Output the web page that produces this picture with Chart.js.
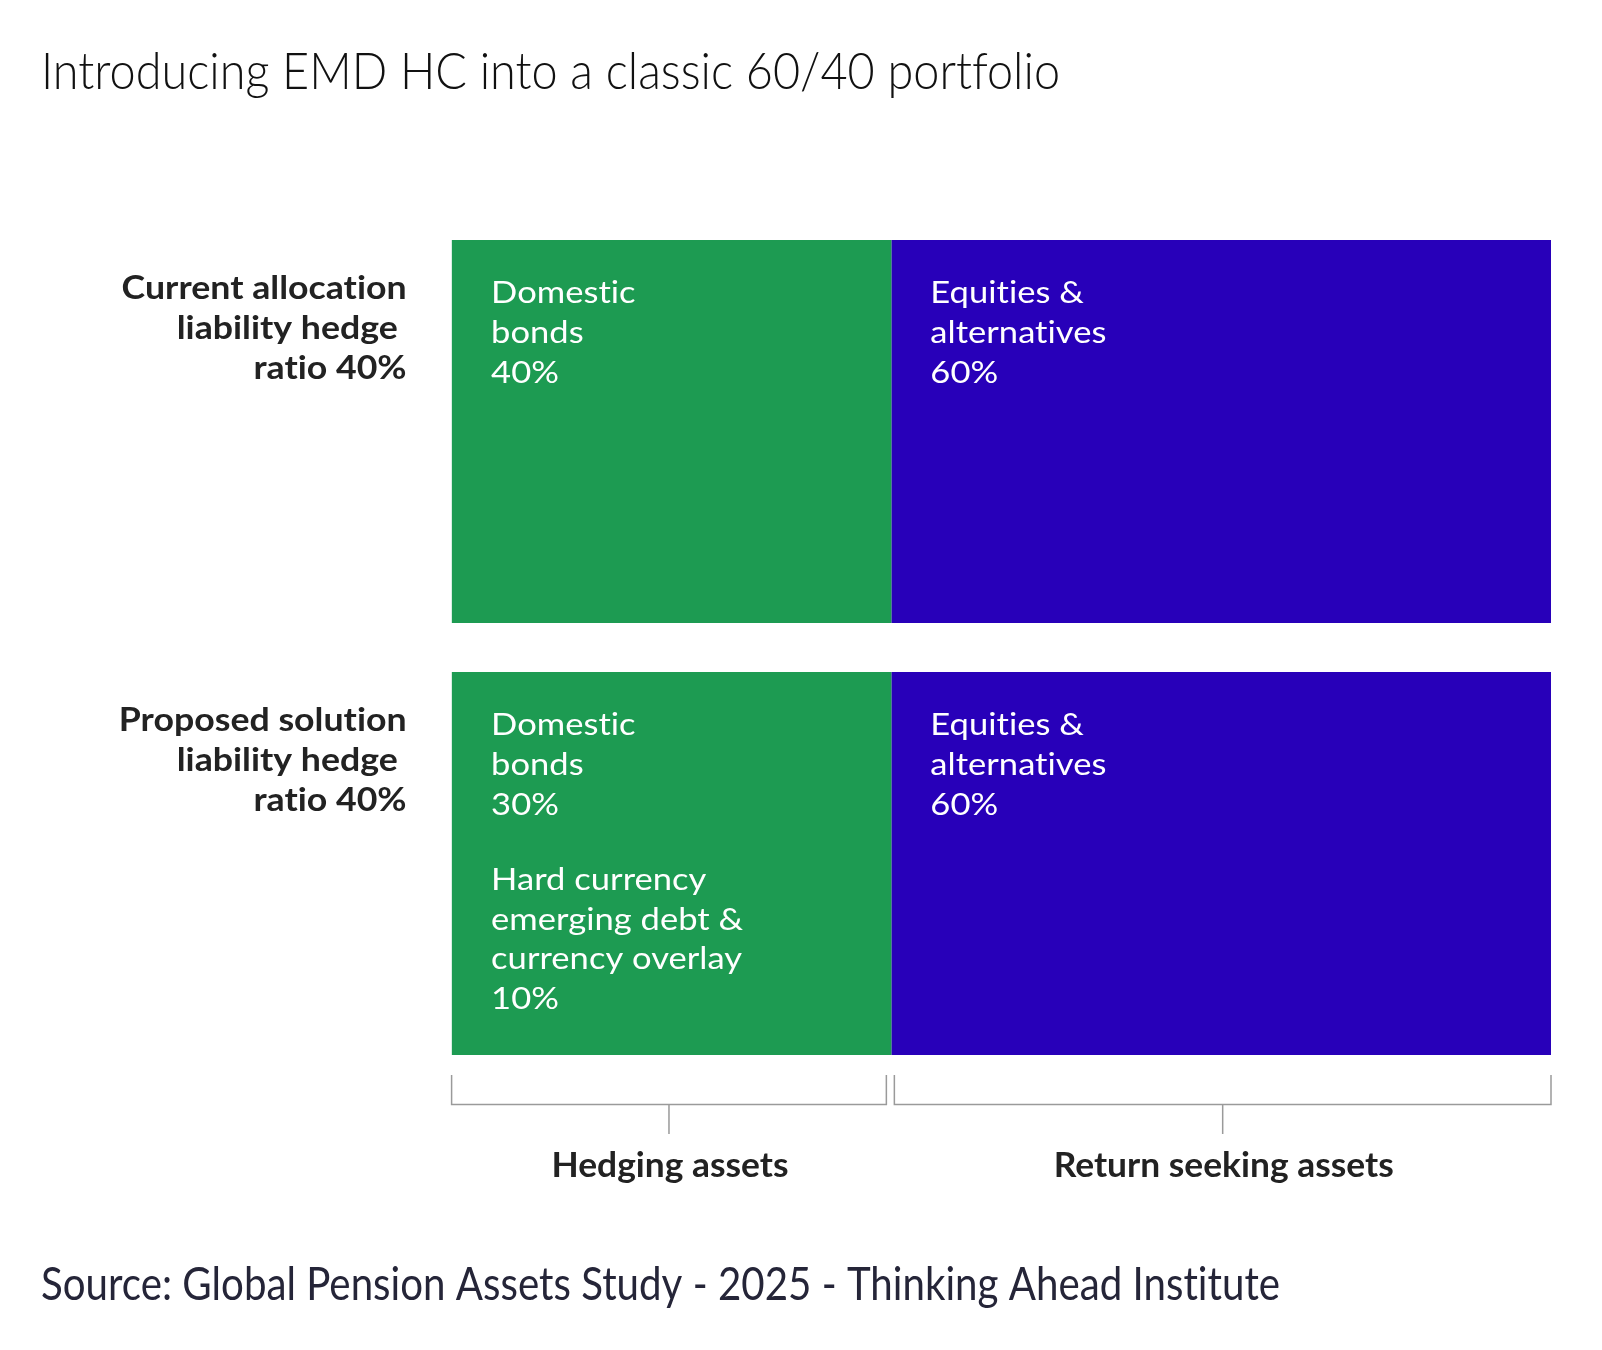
<!DOCTYPE html>
<html><head><meta charset="utf-8">
<script src="https://cdn.jsdelivr.net/npm/chart.js@4.4.1/dist/chart.umd.min.js"></script>
<style>html,body{margin:0;padding:0;background:#fff;} #wrap{width:1602px;height:1350px;position:relative;}</style>
</head><body><div id="wrap"><canvas id="c" width="1602" height="1350"></canvas></div>
<script>
const TITLE = 'Introducing EMD HC into a classic 60/40 portfolio';
const SOURCE = 'Source: Global Pension Assets Study - 2025 - Thinking Ahead Institute';
const categories = [['Current allocation', 'liability hedge ', 'ratio 40%'], ['Proposed solution', 'liability hedge ', 'ratio 40%']];
const hedgingAssets = [40, 40];
const returnSeekingAssets = [60, 60];
const domesticBonds = [40, 30];
const hardCurrencyEmd = [0, 10];
const equitiesAlts = [60, 60];
const groupLabels = ['Hedging assets', 'Return seeking assets'];
const domesticText = ['Domestic', 'bonds'];
const hcText = ['Hard currency', 'emerging debt &', 'currency overlay'];
const eqText = ['Equities &', 'alternatives'];

const GREEN = '#1D9B52', BLUE = '#2800B9';

function fitScale(ctx, font, ref, target) {
  ctx.save(); ctx.font = font; ctx.letterSpacing = '0.01px'; const w = ctx.measureText(ref).width; ctx.restore();
  return target / w;
}
function drawText(ctx, text, x, y, font, color, sx, align) {
  ctx.save();
  ctx.font = font; ctx.fillStyle = color; ctx.textBaseline = 'alphabetic';
  ctx.letterSpacing = '0.01px';
  ctx.textAlign = align || 'left';
  ctx.translate(x, y); ctx.scale(sx, 1);
  ctx.fillText(text, 0, 0);
  ctx.restore();
}

const FT_TITLE = '300 52px Lato';
const FT_SOURCE = '400 47px Lato';
const FT_ROW = '700 33px Lato';
const FT_BAR = '400 31px Lato';
const FT_GROUP = '700 34px Lato';

const annot = {
  id: 'annot',
  afterDatasetsDraw(chart) {
    const ctx = chart.ctx;
    const xs = chart.scales.x;
    const sTitle = fitScale(ctx, FT_TITLE, TITLE, 1019);
    const sSource = fitScale(ctx, FT_SOURCE, SOURCE, 1239);
    const sRow = fitScale(ctx, FT_ROW, 'Current allocation', 285);
    const sBar = fitScale(ctx, FT_BAR, 'alternatives', 176);
    const sGroup = fitScale(ctx, FT_GROUP, 'Return seeking assets', 340);

    drawText(ctx, TITLE, 41, 89, FT_TITLE, '#111111', sTitle);
    drawText(ctx, SOURCE, 41, 1300, FT_SOURCE, '#252538', sSource);

    const m0 = chart.getDatasetMeta(0), m1 = chart.getDatasetMeta(1);
    let lastBottom = 0;
    categories.forEach((lines, i) => {
      const el = m0.data[i];
      const top = el.y - el.height / 2;
      lastBottom = Math.max(lastBottom, el.y + el.height / 2);
      lines.forEach((ln, k) => drawText(ctx, ln, xs.left - 45, top + 59 + k * 40, FT_ROW, '#222222', sRow, 'right'));
      const gx = Math.min(el.x, el.base) + 39.5;
      const dLines = domesticText.concat([domesticBonds[i] + '%']);
      dLines.forEach((ln, k) => drawText(ctx, ln, gx, top + 63 + k * 40, FT_BAR, '#ffffff', sBar));
      if (hardCurrencyEmd[i] > 0) {
        const hLines = hcText.concat([hardCurrencyEmd[i] + '%']);
        hLines.forEach((ln, k) => drawText(ctx, ln, gx, top + 218 + k * 39.5, FT_BAR, '#ffffff', sBar));
      }
      const e = m1.data[i];
      const ex = Math.min(e.x, e.base) + 39;
      const eLines = eqText.concat([equitiesAlts[i] + '%']);
      eLines.forEach((ln, k) => drawText(ctx, ln, ex, top + 63 + k * 40, FT_BAR, '#ffffff', sBar));
    });

    // brackets
    const split = hedgingAssets[0];
    const total = split + returnSeekingAssets[0];
    const spans = [[xs.getPixelForValue(0), xs.getPixelForValue(split) - 5], [xs.getPixelForValue(split) + 3, xs.getPixelForValue(total)]];
    const yTop = lastBottom + 20, yMid = lastBottom + 49.5, yTick = lastBottom + 79;
    ctx.save();
    ctx.strokeStyle = '#9a9a9a'; ctx.lineWidth = 1.5;
    spans.forEach(([a, b], j) => {
      ctx.beginPath();
      ctx.moveTo(a, yTop); ctx.lineTo(a, yMid); ctx.lineTo(b, yMid); ctx.lineTo(b, yTop);
      const c = (a + b) / 2;
      ctx.moveTo(c, yMid); ctx.lineTo(c, yTick);
      ctx.stroke();
      drawText(ctx, groupLabels[j], c + 1, lastBottom + 122, FT_GROUP, '#222222', sGroup, 'center');
    });
    ctx.restore();
  }
};

new Chart(document.getElementById('c'), {
  type: 'bar',
  data: {
    labels: categories.map(l => l.join(' ')),
    datasets: [
      { label: 'Hedging assets', data: hedgingAssets, backgroundColor: GREEN, borderWidth: 0 },
      { label: 'Return seeking assets', data: returnSeekingAssets, backgroundColor: BLUE, borderWidth: 0 }
    ]
  },
  options: {
    indexAxis: 'y',
    responsive: false,
    animation: false,
    layout: { padding: { left: 451.6, right: 51, top: 215.5, bottom: 270.5 } },
    datasets: { bar: { categoryPercentage: 1, barPercentage: 383 / 432 } },
    scales: {
      x: { stacked: true, min: 0, max: 100, display: false },
      y: { stacked: true, display: false }
    },
    plugins: { legend: { display: false }, tooltip: { enabled: false }, title: { display: false } }
  },
  plugins: [annot]
});
</script></body></html>
